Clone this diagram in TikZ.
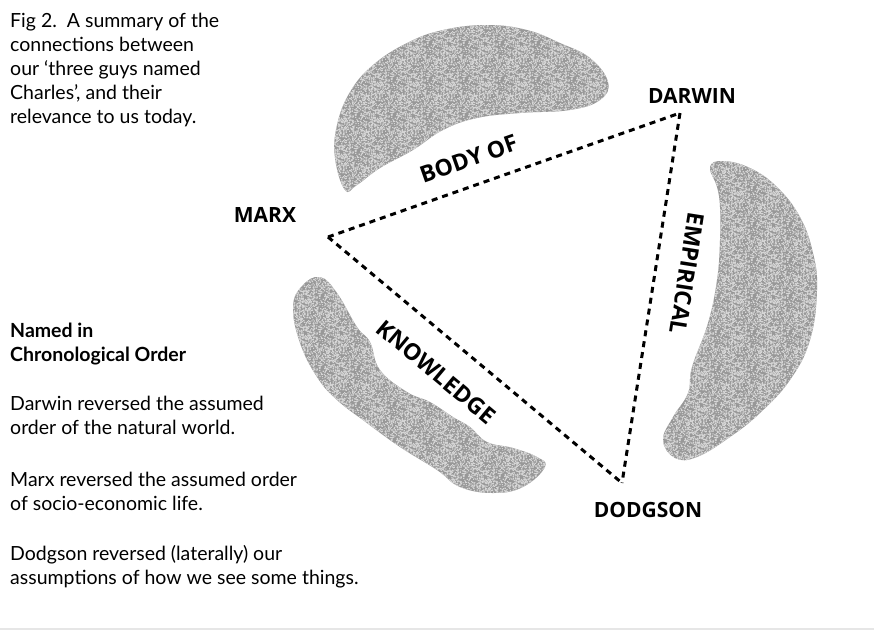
\documentclass[tikz,border=0pt]{standalone}
\usepackage{fontspec}
\setmainfont{Lato}
\newfontfamily\labelfont{Open Sans}
\usetikzlibrary{positioning,patterns}
\definecolor{blobgrey}{HTML}{989898}
\definecolor{specklegrey}{HTML}{D6D6D6}
\definecolor{rulegrey}{HTML}{E6E6E6}

% fine light noise laid over the grey blobs
\pgfmathsetseed{7}
\pgfdeclarepatternformonly{speckles}{\pgfqpoint{0pt}{0pt}}{\pgfqpoint{36pt}{36pt}}{\pgfqpoint{36pt}{36pt}}{%
  \foreach \k in {1,...,540}{%
    \pgfmathsetmacro\sx{rnd*37.2-1.2}\pgfmathsetmacro\sy{rnd*37.2-1.2}%
    \pgfpathrectangle{\pgfpoint{\sx pt}{\sy pt}}{\pgfpoint{1.2pt}{1.2pt}}%
    \pgfusepath{fill}}}

\begin{document}
\begin{tikzpicture}[x=1pt, y=-1pt,
  person/.style={font=\labelfont\bfseries\fontsize{21}{24}\selectfont, inner sep=0pt},
  field/.style={font=\labelfont\bfseries\fontsize{23}{28}\selectfont, sloped, allow upside down, inner sep=0pt},
  link/.style={line width=3pt, dash pattern=on 6pt off 5pt},
  blob/.style={fill=blobgrey, postaction={pattern=speckles, pattern color=specklegrey}},
  body/.style={font=\fontsize{19.5}{24}\selectfont, align=left, inner sep=0pt}]
  \useasboundingbox (0,0) rectangle (874,630);
  \fill[rulegrey] (0,628) rectangle (874,630);

  % the three grey blobs
  \fill[blob] plot[smooth cycle, tension=0.7] coordinates {
    (345,190) (335,158) (337,125) (350,92) (373,65) (407,43) (443,30) (487,25)
    (527,30) (560,43) (590,58) (608,82) (600,100) (570,110) (520,113) (477,118)
    (443,130) (413,150) (380,168) (357,185)};
  \fill[blob] plot[smooth cycle, tension=0.7] coordinates {
    (710,167) (723,161) (750,168) (777,187) (800,217) (813,253) (817,290) (810,340)
    (790,380) (760,413) (730,437) (697,457) (675,458) (663,440) (673,417) (688,393)
    (692,367) (708,323) (717,280) (720,240) (720,207) (717,187)};
  \fill[blob] plot[smooth cycle, tension=0.7] coordinates {
    (320,277) (302,286) (293,307) (300,343) (317,377) (337,400) (367,423) (400,447)
    (437,470) (460,487) (493,493) (523,487) (545,467) (537,457) (513,448) (487,442)
    (470,427) (453,417) (430,402) (407,392) (380,370) (370,342) (357,327) (337,293)};

  % corners of the triangle
  \coordinate (marxpt) at (328,237);
  \coordinate (darwinpt) at (680,113);
  \coordinate (dodgsonpt) at (622,483);

  \node[person] (marx) at (265,215) {MARX};
  \node[person] (darwin) at (692,96) {DARWIN};
  \node[person] (dodgson) at (648,510) {DODGSON};

  % dashed links
  \draw[link] (marxpt) -- node[field, pos=0.425, above=17pt] (bodyof) {BODY OF} (darwinpt);
  \draw[link] (darwinpt) -- node[field, pos=0.42, above=22pt] (empirical) {EMPIRICAL} (dodgsonpt);
  \draw[link] (marxpt) -- node[field, pos=0.4425, below=24pt] (knowledge) {KNOWLEDGE} (dodgsonpt);

  % texts on the left
  \node[body, anchor=north west] (caption) at (10,13)
    {Fig 2.\ \ A summary of the\\connections between\\our `three guys named\\Charles', and their\\relevance to us today.};
  \node[body, anchor=north west] (notes) at (10,323)
    {\textbf{Named in}\\\textbf{Chronological Order}\\[25pt]
     Darwin reversed the assumed\\order of the natural world.\\[28pt]
     Marx reversed the assumed order\\of socio-economic life.\\[26pt]
     Dodgson reversed (laterally) our\\assumptions of how we see some things.};
\end{tikzpicture}
\end{document}
